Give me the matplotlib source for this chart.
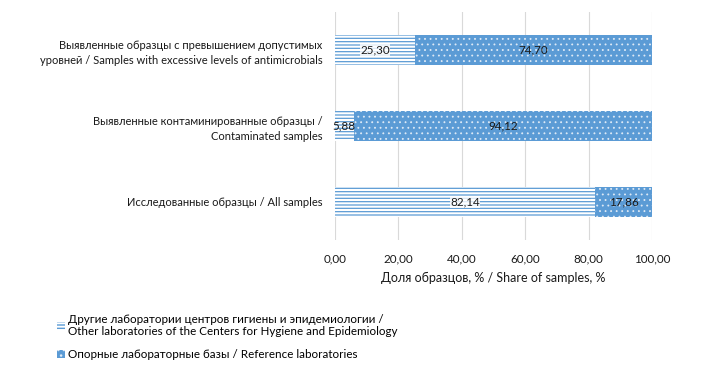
import matplotlib
matplotlib.use("Agg")
import matplotlib.pyplot as plt
from matplotlib.patches import Patch

plt.rcParams['font.family'] = ['Lato', 'DejaVu Sans']

categories = [
    "Исследованные образцы / All samples",
    "Выявленные контаминированные образцы /\nContaminated samples",
    "Выявленные образцы с превышением допустимых\nуровней / Samples with excessive levels of antimicrobials",
]
other_labs = [82.14, 5.88, 25.30]
reference_labs = [17.86, 94.12, 74.70]
series_names = [
    "Другие лаборатории центров гигиены и эпидемиологии /\nOther laboratories of the Centers for Hygiene and Epidemiology",
    "Опорные лабораторные базы / Reference laboratories",
]
xticks = [0, 20, 40, 60, 80, 100]

def fmt(v):
    return f"{v:.2f}".replace(".", ",")

fs = 8.4
tc = '#1a1a1a'
fig = plt.figure(figsize=(7.12, 3.69), dpi=100)
ax = fig.add_axes([0.4705, 0.35, 0.4452, 0.617])

blue = '#5B9BD5'
y = range(len(categories))
h = 0.4
with plt.rc_context({'hatch.linewidth': 0.9}):
    b1 = ax.barh(y, other_labs, height=h, color='white', edgecolor=blue, hatch='-----', linewidth=0)
    p1 = Patch(facecolor='white', edgecolor=blue, hatch='-----', linewidth=0)
with plt.rc_context({'hatch.linewidth': 0.6}):
    b2 = ax.barh(y, reference_labs, left=other_labs, height=h, color=blue, edgecolor='#dfeaf6', hatch='...', linewidth=0)
    p2 = Patch(facecolor=blue, edgecolor='#dfeaf6', hatch='...', linewidth=0)

for i, (a, b) in enumerate(zip(other_labs, reference_labs)):
    ax.text(a / 2, i, fmt(a), ha='center', va='center', fontsize=fs, color=tc,
            bbox=dict(facecolor='white', edgecolor='none', pad=0.2, alpha=0.8) if a > 10 else None)
    ax.text(a + b / 2, i, fmt(b), ha='center', va='center', fontsize=fs, color=tc)

ax.set_xlim(0, 100)
ax.set_ylim(-0.5, 2.5)
ax.set_xticks(xticks)
ax.set_xticklabels([fmt(v) for v in xticks], fontsize=fs, color=tc)
ax.set_yticks(list(y))
ax.set_yticklabels(categories, fontsize=8.05, color=tc, ha='right', linespacing=1.45)
ax.tick_params(axis='x', length=0, pad=10)
ax.tick_params(axis='y', length=0, pad=9)
ax.grid(axis='x', color='#D9D9D9', linewidth=0.8)
ax.set_axisbelow(True)
for s in ax.spines.values():
    s.set_visible(False)
ax.set_xlabel("Доля образцов, % / Share of samples, %", fontsize=9, color=tc, labelpad=5)

fig.legend([p1, p2], series_names, loc='upper left', bbox_to_anchor=(0.073, 0.163),
           frameon=False, fontsize=fs, handlelength=0.7, handleheight=0.7,
           handletextpad=0.3, labelspacing=1.0, borderaxespad=0)

fig.savefig("out.png", dpi=100)
